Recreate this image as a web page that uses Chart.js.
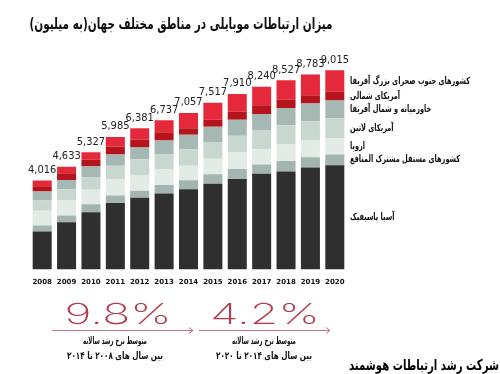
<!DOCTYPE html>
<html>
<head>
<meta charset="utf-8">
<script src="https://cdn.jsdelivr.net/npm/chart.js@4"></script>
<style>
  html, body { margin: 0; padding: 0; background: #fff; }
  #wrap { width: 500px; height: 374px; position: relative; }
</style>
</head>
<body>
<div id="wrap"><canvas id="mobileChart"></canvas></div>
<script>
// داده‌ها (میلیون)
const years = ['2008','2009','2010','2011','2012','2013','2014','2015','2016','2017','2018','2019','2020'];
const totals = ['4,016','4,633','5,327','5,985','6,381','6,737','7,057','7,517','7,910','8,240','8,527','8,783','9,015'];

const asiaPacific   = [1711, 2125, 2573, 2987, 3220, 3418, 3608, 3849, 4065, 4297, 4397, 4582, 4685];
const cis           = [ 272,  302,  358,  332,  315,  375,  401,  431,  448,  414,  474,  461,  474];
const europe        = [ 660,  677,  647,  720,  690,  703,  647,  690,  746,  690,  746,  746,  733];
const latinAmerica  = [ 461,  504,  573,  616,  720,  664,  746,  750,  746,  862,  862,  862,  892];
const mena          = [ 401,  414,  491,  504,  530,  629,  647,  690,  720,  720,  763,  793,  802];
const northAmerica  = [ 228,  302,  284,  358,  358,  375,  289,  315,  358,  388,  388,  371,  388];
const subSaharan    = [ 259,  289,  332,  431,  504,  530,  690,  763,  793,  832,  862,  935,  966];

const regionNames = [
  'آسیا پاسیفیک',
  'کشورهای مستقل مشترک المنافع',
  'اروپا',
  'آمریکای لاتین',
  'خاورمیانه و شمال آفریقا',
  'آمریکای شمالی',
  'کشورهای جنوب صحرای بزرگ آفریقا'
];
const regionColors = ['#2f2f2f', '#a2b5b1', '#e2ebe6', '#c8d8cf', '#a5b8b4', '#b5141c', '#e5283a'];
const regionData = [asiaPacific, cis, europe, latinAmerica, mena, northAmerica, subSaharan];

// متن‌های جانبی
const chartTitle = 'میزان ارتباطات موبایلی در مناطق مختلف جهان(به میلیون)';
const growthRates = ['9.8%', '4.2%'];
const growthCaption = 'متوسط نرخ رشد سالانه';
const growthPeriods = ['بین سال های ۲۰۰۸ تا ۲۰۱۴', 'بین سال های ۲۰۱۴ تا ۲۰۲۰'];
const companyName = 'شرکت رشد ارتباطات هوشمند';

const persianFont = '"DejaVu Sans", "Noto Sans", sans-serif';

// نوشتن متن فارسی با فشرده‌سازی افقی (x = لبه چپ متن)
function drawFa(ctx, text, x, y, font, sx, color) {
  ctx.save();
  ctx.font = font;
  ctx.fillStyle = color || '#111';
  ctx.direction = 'rtl';
  ctx.textAlign = 'left';
  ctx.textBaseline = 'middle';
  ctx.translate(x, y);
  ctx.scale(sx, 1);
  ctx.fillText(text, 0, 0);
  ctx.restore();
}
function faWidth(ctx, text, font) {
  ctx.save();
  ctx.font = font;
  ctx.direction = 'rtl';
  const w = ctx.measureText(text).width;
  ctx.restore();
  return w;
}
// متن با عرض مشخص، وسط‌چین
function drawFaFit(ctx, text, cx, y, font, width, color) {
  const sx = width / faWidth(ctx, text, font);
  drawFa(ctx, text, cx - width / 2, y, font, sx, color);
}

const decorations = {
  id: 'decorations',
  afterDatasetsDraw(chart) {
    const ctx = chart.ctx;
    const topMeta = chart.getDatasetMeta(regionData.length - 1);

    // اعداد بالای ستون‌ها
    ctx.save();
    ctx.fillStyle = '#222';
    ctx.font = '11px "Liberation Sans Narrow", "DejaVu Sans Condensed", sans-serif';
    ctx.textAlign = 'center';
    ctx.textBaseline = 'bottom';
    topMeta.data.forEach((bar, i) => {
      ctx.fillText(totals[i], bar.x, bar.y - 5);
    });
    ctx.restore();

    // برچسب مناطق کنار آخرین ستون
    const labelFont = 'bold 10px ' + persianFont;
    const longest = Math.max(...regionNames.map(n => faWidth(ctx, n, labelFont)));
    const lsx = 120 / longest;
    const last = years.length - 1;
    regionNames.forEach((name, d) => {
      const bar = chart.getDatasetMeta(d).data[last];
      const mid = (bar.y + bar.base) / 2;
      drawFa(ctx, name, 350, mid, labelFont, lsx, '#111');
    });

    // عنوان
    drawFaFit(ctx, chartTitle, 181, 25, 'bold 16px ' + persianFont, 303, '#111');

    // نرخ رشد و فلش‌ها
    const blocks = [
      { cx: 118, x0: 52, x1: 193, tcx: 115 },
      { cx: 265, x0: 199, x1: 330, tcx: 264 }
    ];
    blocks.forEach((b, k) => {
      ctx.save();
      ctx.translate(b.cx, 315);
      ctx.scale(1.6, 1);
      ctx.fillStyle = '#b53a4c';
      ctx.font = '200 29px Inter, "DejaVu Sans", sans-serif';
      ctx.textAlign = 'center';
      ctx.textBaseline = 'middle';
      ctx.fillText(growthRates[k], 0, 0);
      ctx.restore();

      ctx.save();
      ctx.strokeStyle = '#c27585';
      ctx.lineWidth = 1;
      ctx.beginPath();
      ctx.moveTo(b.x0, 330.5);
      ctx.lineTo(b.x1, 330.5);
      ctx.moveTo(b.x1 - 4, 327.5);
      ctx.lineTo(b.x1, 330.5);
      ctx.lineTo(b.x1 - 4, 333.5);
      ctx.stroke();
      ctx.restore();

      drawFaFit(ctx, growthCaption, b.tcx, 341, 'bold 10px ' + persianFont, 64, '#111');
      drawFaFit(ctx, growthPeriods[k], b.tcx, 356, 'bold 10px ' + persianFont, 96, '#111');
    });

    // نام شرکت
    drawFaFit(ctx, companyName, 424, 366, 'bold 15px ' + persianFont, 150, '#000');
  }
};

const ctxMobile = document.getElementById('mobileChart').getContext('2d');
const mobileChart = new Chart(ctxMobile, {
  type: 'bar',
  data: {
    labels: years,
    datasets: regionData.map((values, d) => ({
      label: regionNames[d],
      data: values,
      backgroundColor: regionColors[d],
      borderWidth: 0,
      barPercentage: 0.78,
      categoryPercentage: 1
    }))
  },
  options: {
    responsive: true,
    maintainAspectRatio: false,
    animation: false,
    layout: {
      padding: { left: 30, right: 153, top: 60, bottom: 80 }
    },
    plugins: {
      legend: { display: false },
      tooltip: { enabled: false }
    },
    scales: {
      x: {
        stacked: true,
        grid: { display: false, drawTicks: false },
        border: { display: false },
        ticks: {
          color: '#111',
          padding: 8,
          maxRotation: 0,
          autoSkip: false,
          font: { family: 'DejaVu Sans', size: 7, weight: 'bold' }
        }
      },
      y: {
        stacked: true,
        display: false,
        min: 0,
        max: 9400
      }
    }
  },
  plugins: [decorations]
});
</script>
</body>
</html>
